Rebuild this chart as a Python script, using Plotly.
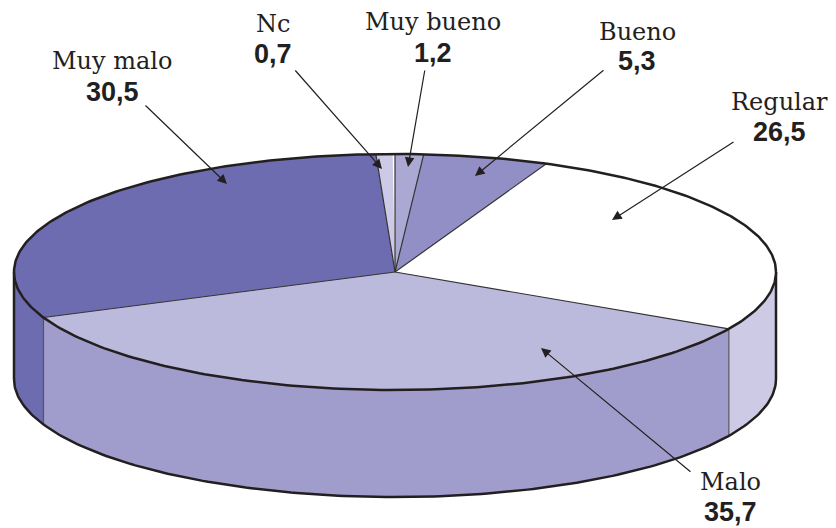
import numpy as np
import plotly.graph_objects as go

# ---- data (clockwise from 12 o'clock) ----
categories = ["Muy bueno", "Bueno", "Regular", "Malo", "Muy malo", "Nc"]
values = [1.2, 5.3, 26.5, 35.7, 30.5, 0.7]
value_labels = ["1,2", "5,3", "26,5", "35,7", "30,5", "0,7"]

# ---- styles / layout ----
top_colors = ["#ABA8D3", "#918FC5", "#FFFFFF", "#BCBADC", "#6E6CB0", "#CCCAE7"]
side_colors = ["#ABA8D3", "#918FC5", "#CDCAE6", "#A09CCB", "#6E6CB0", "#CCCAE7"]
PAGE_W, PAGE_H = 836, 528
OFF = 8  # default body margin of the html page
W, H = PAGE_W - OFF, PAGE_H - OFF
CX, CY, A, B, DEPTH = 395, 272, 381, 118, 107
START = 90.0
INK = "#231F20"

# label layout (page pixels): (label x, label y, number y, arrow tail x, tail y, tip x, tip y)
label_layout = {
    "Muy bueno": (433, 22, 53, 425, 69, 408, 167),
    "Bueno": (637, 32, 61, 605, 69, 475, 176),
    "Regular": (779, 102, 132, 735, 141, 612, 220),
    "Malo": (730, 482, 512, 692, 473, 541, 348),
    "Muy malo": (112, 61, 92, 144, 104, 227, 184),
    "Nc": (273, 24, 54, 294, 69, 382, 169),
}


def ell(theta_deg, dz=0.0):
    t = np.radians(theta_deg)
    return CX + A * np.cos(t), CY - B * np.sin(t) + dz


fig = go.Figure()

# slice angles from values
total = 100.0
bounds = [START]
for v in values:
    bounds.append(bounds[-1] - v / total * 360.0)

# ---- side walls (front half only: angles in (-180, 0)) ----
for i, cat in enumerate(categories):
    a0, a1 = bounds[i], bounds[i + 1]  # a0 > a1
    lo, hi = max(a1, -180.0), min(a0, 0.0)
    if hi <= lo:
        continue
    th = np.linspace(hi, lo, 80)
    xt, yt = ell(th)
    xb, yb = ell(th[::-1], DEPTH)
    xs = np.concatenate([xt, xb, xt[:1]])
    ys = np.concatenate([yt, yb, yt[:1]])
    fig.add_trace(go.Scatter(x=xs, y=ys, mode="lines", fill="toself",
                             fillcolor=side_colors[i], line=dict(width=0),
                             hoverinfo="skip", showlegend=False))

# side boundary verticals (thin)
for b in bounds[1:-1]:
    if -180 < b < 0:
        x0, y0 = ell(b)
        fig.add_trace(go.Scatter(x=[x0, x0], y=[y0, y0 + DEPTH], mode="lines",
                                 line=dict(color="#555555", width=1.2),
                                 hoverinfo="skip", showlegend=False))

# silhouette: outer verticals and bottom arc
for b in (0.0, -180.0):
    x0, y0 = ell(b)
    fig.add_trace(go.Scatter(x=[x0, x0], y=[y0, y0 + DEPTH], mode="lines",
                             line=dict(color=INK, width=2.5),
                             hoverinfo="skip", showlegend=False))
thb = np.linspace(-180, 0, 200)
xb, yb = ell(thb, DEPTH)
fig.add_trace(go.Scatter(x=xb, y=yb, mode="lines", line=dict(color=INK, width=2.5),
                         hoverinfo="skip", showlegend=False))

# ---- top slices ----
for i, cat in enumerate(categories):
    a0, a1 = bounds[i], bounds[i + 1]
    th = np.linspace(a0, a1, max(6, int(abs(a0 - a1) * 2)))
    xt, yt = ell(th)
    xs = np.concatenate([[CX], xt, [CX]])
    ys = np.concatenate([[CY], yt, [CY]])
    fig.add_trace(go.Scatter(x=xs, y=ys, mode="lines", fill="toself",
                             fillcolor=top_colors[i], line=dict(width=0),
                             hoverinfo="skip", showlegend=False))

# radial lines
for b in bounds[:-1]:
    x0, y0 = ell(b)
    fig.add_trace(go.Scatter(x=[CX, x0], y=[CY, y0], mode="lines",
                             line=dict(color="#333333", width=1.2),
                             hoverinfo="skip", showlegend=False))

# top ellipse outline
tha = np.linspace(0, 360, 400)
xo, yo = ell(tha)
fig.add_trace(go.Scatter(x=xo, y=yo, mode="lines", line=dict(color=INK, width=2.5),
                         hoverinfo="skip", showlegend=False))

# ---- labels and arrows ----
annotations = []
for cat, vl in zip(categories, value_labels):
    lx, ly, ny, tx, ty, hx, hy = label_layout[cat]
    annotations.append(dict(x=lx, y=ly, xref="x", yref="y", text=cat, showarrow=False,
                            font=dict(family="DejaVu Serif", size=24, color=INK),
                            xanchor="center", yanchor="middle"))
    annotations.append(dict(x=lx, y=ny, xref="x", yref="y", text="<b>" + vl + "</b>",
                            showarrow=False,
                            font=dict(family="Liberation Sans", size=27, color=INK),
                            xanchor="center", yanchor="middle"))
    annotations.append(dict(x=hx, y=hy, xref="x", yref="y", ax=tx, ay=ty,
                            axref="x", ayref="y", text="", showarrow=True,
                            arrowhead=2, arrowsize=1.6, arrowwidth=1.2,
                            arrowcolor=INK, standoff=0, startstandoff=0))

fig.update_layout(
    width=W, height=H,
    margin=dict(l=0, r=0, t=0, b=0, pad=0),
    paper_bgcolor="white", plot_bgcolor="white",
    xaxis=dict(range=[OFF, PAGE_W], visible=False, fixedrange=True),
    yaxis=dict(range=[PAGE_H, OFF], visible=False, fixedrange=True),
    annotations=annotations,
    showlegend=False,
)

fig.write_html("out.html")
